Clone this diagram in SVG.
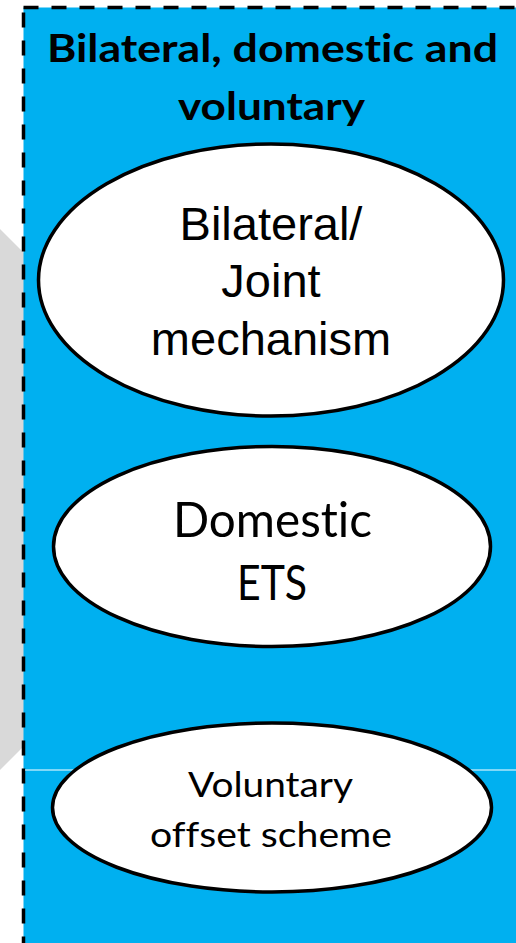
<svg xmlns="http://www.w3.org/2000/svg" width="516" height="943" viewBox="0 0 516 943">
  <style>
    .panel { fill: #00B0F0; stroke: #000000; stroke-width: 3.5; stroke-dasharray: 15 13; }
    .node ellipse { fill: #FFFFFF; stroke: #000000; stroke-width: 3.5; }
    .title { font-family: Lato, "Noto Sans", sans-serif; font-weight: bold; font-size: 39px; fill: #000000; text-anchor: middle; font-variant-ligatures: none; }
    .arial { font-family: "Liberation Sans", Arial, sans-serif; font-size: 47px; fill: #000000; text-anchor: middle; }
    .cal { font-family: Lato, "Noto Sans", sans-serif; fill: #000000; text-anchor: middle; font-variant-ligatures: none; }
  </style>
  <rect x="0" y="0" width="516" height="943" fill="#FFFFFF"/>
  <polygon points="0,229 24,253 24,746 0,770" fill="#D9D9D9"/>
  <rect class="panel" x="23.5" y="7.5" width="520" height="960"/>
  <line x1="25" y1="770" x2="516" y2="770" stroke="#FFFFFF" stroke-width="1.2"/>
  <g id="title">
    <text class="title" x="272.5" y="62" textLength="451" lengthAdjust="spacingAndGlyphs">Bilateral, domestic and</text>
    <text class="title" x="271.5" y="120" textLength="187" lengthAdjust="spacingAndGlyphs">voluntary</text>
  </g>
  <g id="connectors"></g>
  <g id="node-bilateral" class="node">
    <ellipse cx="271" cy="280" rx="232.5" ry="136"/>
    <text class="arial" x="271" y="240">Bilateral/</text>
    <text class="arial" x="271" y="297">Joint</text>
    <text class="arial" x="271" y="355">mechanism</text>
  </g>
  <g id="node-domestic" class="node">
    <ellipse cx="272" cy="546.5" rx="218.5" ry="100"/>
    <text class="cal" x="272.5" y="537" font-size="49" textLength="199" lengthAdjust="spacingAndGlyphs">Domestic</text>
    <text class="cal" x="272" y="600" font-size="49" textLength="70" lengthAdjust="spacingAndGlyphs">ETS</text>
  </g>
  <g id="node-voluntary" class="node">
    <ellipse cx="272" cy="807.5" rx="219.5" ry="84.5"/>
    <text class="cal" x="270.5" y="797" font-size="35" textLength="165" lengthAdjust="spacingAndGlyphs">Voluntary</text>
    <text class="cal" x="271" y="847" font-size="35" textLength="242" lengthAdjust="spacingAndGlyphs">offset scheme</text>
  </g>
</svg>
